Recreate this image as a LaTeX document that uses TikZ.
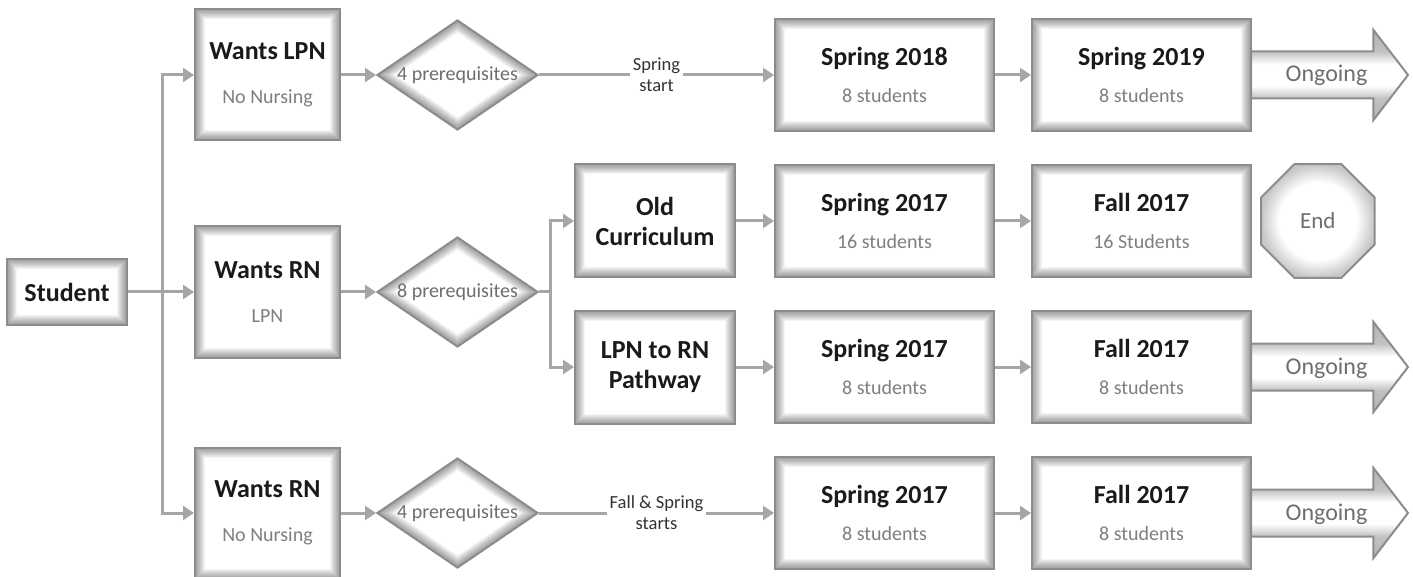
\documentclass[tikz,border=0pt]{standalone}
\usepackage{fontspec}
\setmainfont{Carlito}
\usetikzlibrary{arrows.meta,positioning,shapes.geometric,shapes.arrows}
\definecolor{edgegray}{HTML}{8C8C8C}
\definecolor{linegray}{HTML}{A6A6A6}
\definecolor{subgray}{HTML}{7F7F7F}
\definecolor{softgray}{HTML}{6E6E6E}
\definecolor{titleblack}{HTML}{1A1A1A}
\pgfdeclareradialshading{softglow}{\pgfpoint{0bp}{0bp}}{color(0bp)=(white); color(17bp)=(white); color(25bp)=(black!22); color(50bp)=(black!22)}
\pgfdeclareverticalshading{shaftglow}{100bp}{color(0bp)=(black!30); color(25bp)=(black!30); color(37bp)=(black!24); color(44bp)=(white); color(56bp)=(white); color(63bp)=(black!24); color(75bp)=(black!30); color(100bp)=(black!30)}
\newcommand{\titlefont}{\fontsize{26}{30}\selectfont\bfseries\color{titleblack}}
\newcommand{\subfont}{\fontsize{20}{30}\selectfont\mdseries\color{subgray}}
\tikzset{
    glow/.style={path picture={
        \foreach \k in {1,...,10}
            \draw[black, draw opacity=0.045, line width={2*\k*1pt}] (path picture bounding box.south west) rectangle (path picture bounding box.north east);
    }},
    diaglow/.style={path picture={
        \foreach \k in {1,...,10}
            \draw[black, draw opacity=0.045, line width={2*\k*1pt}] (path picture bounding box.north) -- (path picture bounding box.east) -- (path picture bounding box.south) -- (path picture bounding box.west) -- cycle;
    }},
    stagebox/.style={draw=edgegray, line width=2pt, fill=white, glow, align=center, inner sep=2pt, font=\fontsize{20}{30}\selectfont},
    wantbox/.style={stagebox, minimum width=145pt, minimum height=131pt},
    pathbox/.style={stagebox, minimum width=160pt, minimum height=113pt},
    termbox/.style={stagebox, minimum width=219pt, minimum height=112pt},
    decision/.style={diamond, aspect=1.46, draw=edgegray, line width=2pt, fill=white, diaglow, minimum width=161pt, minimum height=110pt, inner sep=0pt, font=\fontsize{20}{24}\selectfont, text=softgray},
    stopsign/.style={regular polygon, regular polygon sides=8, minimum size=123pt, inner sep=0pt, draw=edgegray, line width=2pt, shading=softglow, font=\fontsize{23}{26}\selectfont, text=softgray},
    goon/.style={single arrow, single arrow head extend=21.5pt, single arrow tip angle=105, single arrow head indent=0pt, minimum height=157pt, text height=16pt, text depth=2pt, inner ysep=13.5pt, inner xsep=4pt, outer sep=0pt, draw=edgegray, line width=2pt, shading=shaftglow, font=\fontsize{24}{26}\selectfont, text=softgray},
    flow/.style={draw=linegray, line width=3pt, ->},
    edgelabel/.style={fill=white, align=center, inner sep=3pt, font=\fontsize{18.5}{21}\selectfont, text=black!80}
}

\begin{document}
\begin{tikzpicture}[node distance=35pt, >={Triangle[length=11pt,width=14pt]}]
    \useasboundingbox (0,0) rectangle (1413pt,-577pt);

    \node[stagebox, minimum width=120pt, minimum height=66pt] (student) at (67pt,-292pt) {\titlefont Student};
    \coordinate[right=34pt of student.east] (split);

    % three ways in
    \node[wantbox, right=66pt of student] (wrn) {\titlefont Wants RN\\[14pt]\subfont LPN};
    \node[wantbox, above=84pt of wrn] (wlpn) {\titlefont Wants LPN\\[14pt]\subfont No Nursing};
    \node[wantbox, below=88pt of wrn] (wrnb) {\titlefont Wants RN\\[14pt]\subfont No Nursing};

    \node[decision, right=of wlpn] (dia1) {4 prerequisites};
    \node[decision, right=of wrn] (dia2) {8 prerequisites};
    \node[decision, right=of wrnb] (dia3) {4 prerequisites};

    % LPN row
    \node[termbox, right=235pt of dia1] (s18) {\titlefont Spring 2018\\[7pt]\subfont 8 students};
    \node[termbox, right=36pt of s18] (s19) {\titlefont Spring 2019\\[7pt]\subfont 8 students};
    \node[goon, right=-1pt of s19] (on1) {\hspace{12pt}Ongoing};

    % RN with LPN
    \node[pathbox, right=35pt of dia2, yshift=71pt] (oldc) {\titlefont Old\\\titlefont Curriculum};
    \node[pathbox, right=35pt of dia2, yshift=-75pt] (lpn) {\titlefont LPN to RN\\\titlefont Pathway};
    \node[termbox, right=38pt of oldc] (s17a) {\titlefont Spring 2017\\[7pt]\subfont 16 students};
    \node[termbox, right=36pt of s17a] (f17a) {\titlefont Fall 2017\\[7pt]\subfont 16 Students};
    \node[stopsign, right=8pt of f17a] (fin) {End};
    \node[termbox, right=38pt of lpn] (s17b) {\titlefont Spring 2017\\[7pt]\subfont 8 students};
    \node[termbox, right=36pt of s17b] (f17b) {\titlefont Fall 2017\\[7pt]\subfont 8 students};
    \node[goon, right=-1pt of f17b] (on2) {\hspace{12pt}Ongoing};

    % RN, no nursing
    \node[termbox, right=235pt of dia3] (s17c) {\titlefont Spring 2017\\[7pt]\subfont 8 students};
    \node[termbox, right=36pt of s17c] (f17c) {\titlefont Fall 2017\\[7pt]\subfont 8 students};
    \node[goon, right=-1pt of f17c] (on3) {\hspace{12pt}Ongoing};

    \draw[flow] (student) -- (wrn);
    \draw[flow] (student.east) -- (split) |- (wlpn.west);
    \draw[flow] (split) |- (wrnb.west);
    \draw[flow] (wlpn) -- (dia1);
    \draw[flow] (dia1) -- node[edgelabel] {Spring\\start} (s18);
    \draw[flow] (s18) -- (s19);
    \draw[flow] (wrn) -- (dia2);
    \coordinate[right=11pt of dia2.east] (fork);
    \draw[flow] (dia2.east) -- (fork) |- (oldc.west);
    \draw[flow] (fork) |- (lpn.west);
    \draw[flow] (oldc) -- (s17a);
    \draw[flow] (s17a) -- (f17a);
    \draw[flow] (lpn) -- (s17b);
    \draw[flow] (s17b) -- (f17b);
    \draw[flow] (wrnb) -- (dia3);
    \draw[flow] (dia3) -- node[edgelabel] {Fall \& Spring\\starts} (s17c);
    \draw[flow] (s17c) -- (f17c);
\end{tikzpicture}
\end{document}
